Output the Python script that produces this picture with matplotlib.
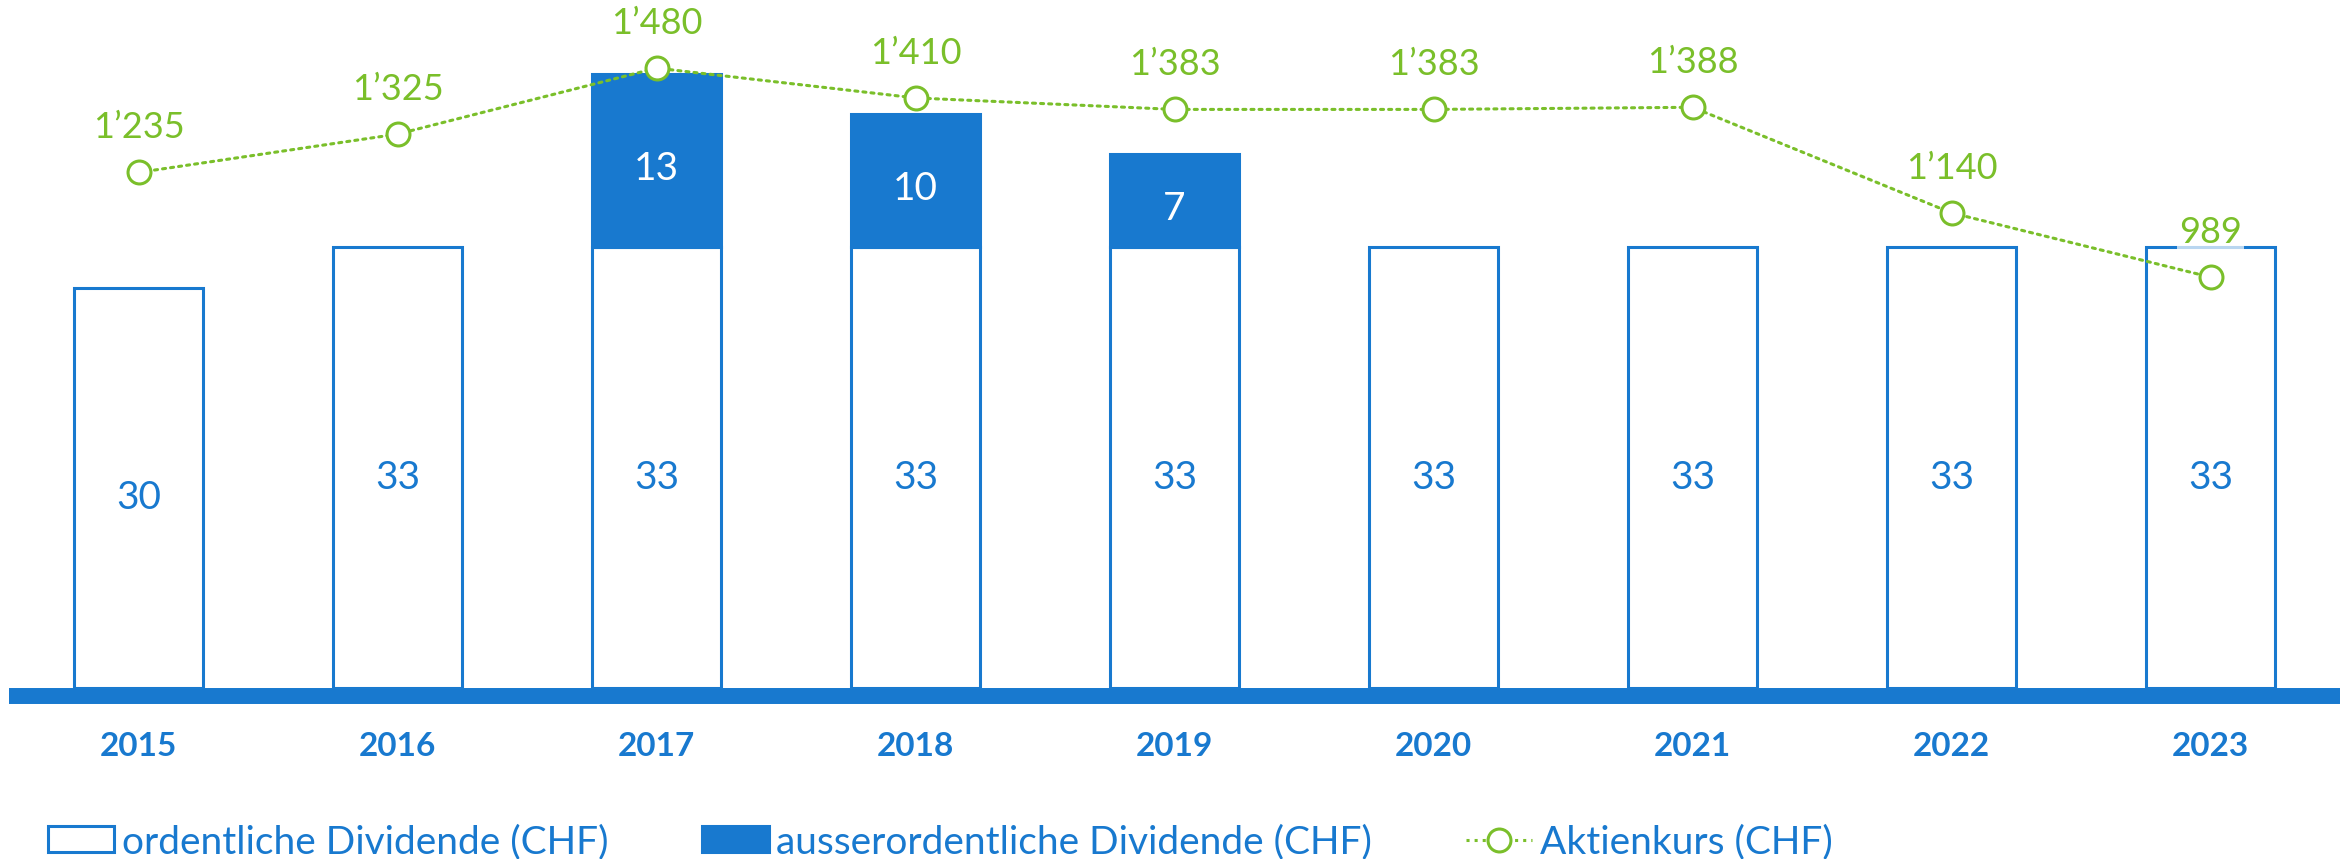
import numpy as np
import matplotlib
matplotlib.use("Agg")
import matplotlib.pyplot as plt
from matplotlib.patches import Rectangle
from matplotlib.lines import Line2D

plt.rcParams['font.family'] = ['Lato', 'DejaVu Sans']

# data
years = ['2015', '2016', '2017', '2018', '2019', '2020', '2021', '2022', '2023']
ordinary = [30, 33, 33, 33, 33, 33, 33, 33, 33]
extra = [0, 0, 13, 10, 7, 0, 0, 0, 0]
price = [1235, 1325, 1480, 1410, 1383, 1383, 1388, 1140, 989]

blue = '#1879cf'
green = '#7abf2a'

W, H = 2351, 859
fig = plt.figure(figsize=(W / 100, H / 100), dpi=100)
ax = fig.add_axes([9 / W, (H - 688) / H, (2340 - 9) / W, 688 / H])
ax2 = ax.twinx()

x = np.arange(len(years))
ax.bar(x, ordinary, width=0.5, facecolor='white', edgecolor=blue, linewidth=2.2, zorder=2)
ext = np.array(extra)
mask = ext > 0
ax.bar(x[mask], ext[mask], bottom=np.array(ordinary)[mask], width=0.5,
       facecolor=blue, edgecolor=blue, linewidth=2.2, zorder=2)

for i in range(len(years)):
    ax.text(x[i], ordinary[i] / 2 - 0.8, str(ordinary[i]), ha='center', va='center',
            fontsize=28, color=blue, zorder=5)
    if extra[i] > 0:
        ax.text(x[i], ordinary[i] + extra[i] / 2 - 0.65, str(extra[i]), ha='center',
                va='center', fontsize=28, color='white', zorder=5)

ax.set_xlim(-0.5, len(years) - 0.5)
ax.set_ylim(0, 688 / 13.35)

# thick baseline
ax.axhline(-8 / 13.35, color=blue, linewidth=11.5, clip_on=False, zorder=6,
           solid_capstyle='butt')

ax.set_xticks(x)
ax.set_xticklabels(years, fontsize=24, fontweight='bold', color=blue)
ax.tick_params(axis='x', length=0, pad=32)
ax.set_yticks([])
ax2.set_yticks([])
for a in (ax, ax2):
    for s in a.spines.values():
        s.set_visible(False)

# share price line
ax2.set_ylim(24, 1640)
ax2.plot(x, price, linestyle=':', color=green, linewidth=2.2, dash_capstyle='round',
         marker='o', markersize=16.5, markerfacecolor='white', markeredgecolor=green,
         markeredgewidth=2.2, zorder=4)
for i, v in enumerate(price):
    lbl = f"{v:,}".replace(',', '\u2019')
    ax2.annotate(lbl, (x[i], v), xytext=(0, 32), textcoords='offset points',
                 ha='center', va='center', fontsize=26, color=green,
                 bbox=dict(boxstyle='square,pad=0.05', facecolor='white',
                           edgecolor='none', alpha=0.7))

handles = [
    Rectangle((0, 0), 1, 1, facecolor='white', edgecolor=blue, linewidth=2.2),
    Rectangle((0, 0), 1, 1, facecolor=blue, edgecolor=blue, linewidth=2.2),
    Line2D([0], [0], linestyle=':', color=green, linewidth=2.2, marker='o',
           markersize=16.5, markerfacecolor='white', markeredgecolor=green,
           markeredgewidth=2.2),
]
labels = ['ordentliche Dividende (CHF)', 'ausserordentliche Dividende (CHF)',
          'Aktienkurs (CHF)']
leg = fig.legend(handles, labels, loc='center left', bbox_to_anchor=(48 / W, 1 - 842 / H),
                 ncol=3, frameon=False, fontsize=28, handlelength=1.7,
                 handleheight=0.65, handletextpad=0.2, columnspacing=2.42,
                 borderpad=0, borderaxespad=0)
for t in leg.get_texts():
    t.set_color(blue)

fig.savefig('out.png', dpi=100)
